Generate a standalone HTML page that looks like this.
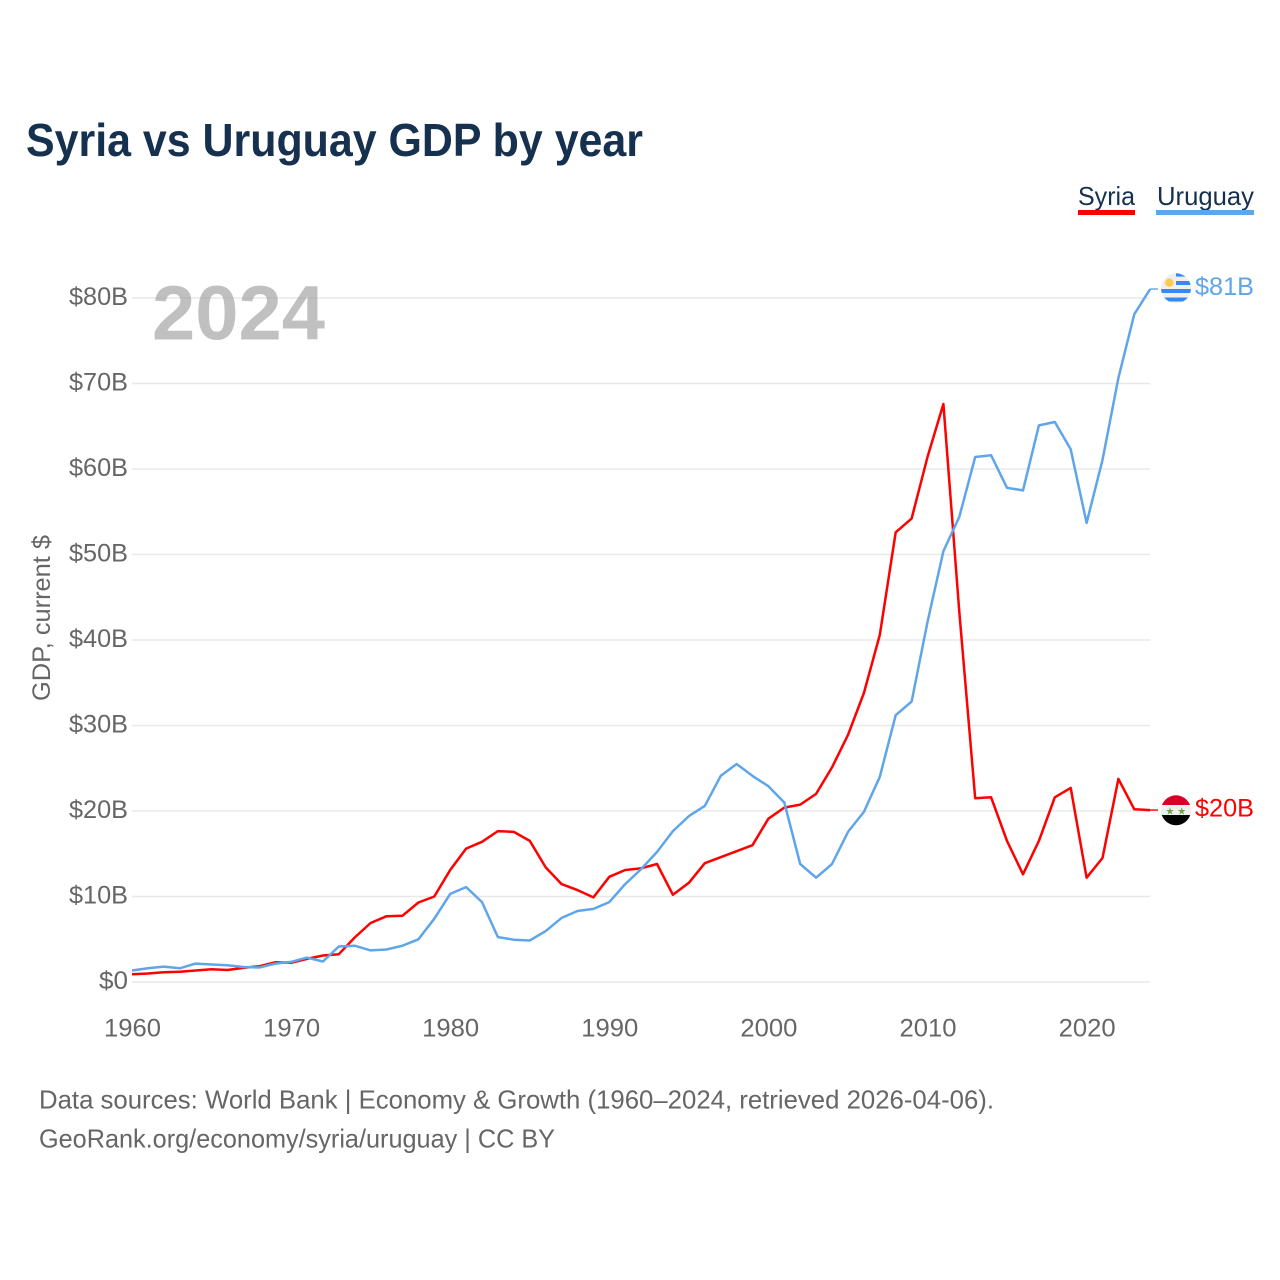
<!DOCTYPE html>
<html lang="en">
<head>
<meta charset="utf-8">
<title>Syria vs Uruguay GDP by year</title>
<style>
html,body{margin:0;padding:0;background:#fff}
svg{display:block;font-family:"Liberation Sans",sans-serif}
</style>
</head>
<body>
<svg id="chart" xmlns="http://www.w3.org/2000/svg" width="1280" height="1280" viewBox="0 0 1280 1280">
  <defs>
    <clipPath id="clip-uy"><circle cx="1176" cy="288.3" r="15"/></clipPath>
    <clipPath id="clip-sy"><circle cx="1176" cy="810.3" r="15"/></clipPath>
  </defs>
  <rect width="1280" height="1280" fill="#fff"/>
  <text x="26" y="156" font-size="46" font-weight="700" fill="#16314f" textLength="617" lengthAdjust="spacingAndGlyphs">Syria vs Uruguay GDP by year</text>

  <g id="grid"></g>
  <g id="yticks"></g>
  <g id="xticks"></g>

  <text x="152" y="339.5" font-size="77" font-weight="700" fill="#999" fill-opacity="0.62" textLength="173" lengthAdjust="spacingAndGlyphs">2024</text>

  <text transform="translate(50,701) rotate(-90)" font-size="25" fill="#666" textLength="166" lengthAdjust="spacingAndGlyphs">GDP, current $</text>

  <g id="series"></g>

  <g>
    <text x="1078" y="205" font-size="26" fill="#16314f" textLength="57" lengthAdjust="spacingAndGlyphs">Syria</text>
    <rect x="1078" y="210" width="57" height="5" fill="#ff0000"/>
  </g>
  <g>
    <text x="1157" y="205" font-size="26" fill="#16314f" textLength="97" lengthAdjust="spacingAndGlyphs">Uruguay</text>
    <rect x="1156" y="210" width="98" height="5" fill="#5fa5ea"/>
  </g>

  <g clip-path="url(#clip-uy)">
    <rect x="1161" y="273" width="30" height="31" fill="#efefef"/>
    <rect x="1176" y="273" width="15" height="3.6" fill="#338af3"/>
    <rect x="1176" y="281" width="15" height="4" fill="#338af3"/>
    <rect x="1161" y="289" width="30" height="4" fill="#338af3"/>
    <rect x="1161" y="297.5" width="30" height="4" fill="#338af3"/>
    <circle cx="1169.3" cy="282.7" r="4.2" fill="#ffc94d"/>
  </g>
  <g clip-path="url(#clip-sy)">
    <rect x="1161" y="795" width="30" height="10" fill="#d80027"/>
    <rect x="1161" y="805" width="30" height="10" fill="#efefef"/>
    <rect x="1161" y="815" width="30" height="11" fill="#000"/>
    <text x="1170" y="814.5" font-size="10" fill="#6da544" text-anchor="middle" font-family="'DejaVu Sans',sans-serif">★</text>
    <text x="1181.7" y="814.5" font-size="10" fill="#6da544" text-anchor="middle" font-family="'DejaVu Sans',sans-serif">★</text>
  </g>

  <text x="1195" y="295" font-size="25" fill="#5fa5ea" textLength="59" lengthAdjust="spacingAndGlyphs">$81B</text>
  <text x="1195" y="816.5" font-size="25" fill="#ff0000" textLength="59" lengthAdjust="spacingAndGlyphs">$20B</text>

  <text x="39" y="1108.5" font-size="26" fill="#666" textLength="955" lengthAdjust="spacingAndGlyphs">Data sources: World Bank | Economy &amp; Growth (1960–2024, retrieved 2026-04-06).</text>
  <text x="39" y="1147.5" font-size="26" fill="#666" textLength="516" lengthAdjust="spacingAndGlyphs">GeoRank.org/economy/syria/uruguay | CC BY</text>
</svg>
<script>
const startYear = 1960;
const syriaValues = [0.9,1.0,1.15,1.2,1.35,1.5,1.4,1.65,1.85,2.3,2.25,2.7,3.1,3.25,5.2,6.9,7.7,7.75,9.3,10,13.1,15.6,16.4,17.65,17.55,16.5,13.4,11.45,10.75,9.9,12.3,13.1,13.3,13.8,10.2,11.6,13.9,14.6,15.3,16,19.1,20.4,20.75,22,25.1,28.9,33.8,40.6,52.6,54.2,61.4,67.6,43.3,21.5,21.6,16.5,12.6,16.5,21.6,22.7,12.2,14.5,23.75,20.2,20.1];
const uruguayValues = [1.35,1.6,1.8,1.6,2.15,2.05,1.95,1.75,1.7,2.15,2.35,2.85,2.4,4.15,4.25,3.7,3.8,4.25,5.0,7.4,10.3,11.1,9.35,5.25,4.95,4.85,5.95,7.5,8.3,8.55,9.35,11.45,13.2,15.2,17.65,19.4,20.6,24.1,25.5,24.1,22.9,21,13.8,12.2,13.8,17.55,19.9,24,31.2,32.8,42.1,50.4,54.4,61.4,61.6,57.8,57.5,65.1,65.5,62.3,53.7,61.05,70.65,78.1,81.05];
const yTickValues = [0,10,20,30,40,50,60,70,80];
const yTickLabels = ['$0','$10B','$20B','$30B','$40B','$50B','$60B','$70B','$80B'];
const xTickValues = [1960,1970,1980,1990,2000,2010,2020];

const xOf = function (year) { return 132 + (year - 1960) * 15.91; };
const yOf = function (v) { return 982 - v * 8.55; };
const NS = 'http://www.w3.org/2000/svg';

function make(tag, attrs, parent, text) {
  const el = document.createElementNS(NS, tag);
  for (const k in attrs) el.setAttribute(k, attrs[k]);
  if (text !== undefined) el.textContent = text;
  parent.appendChild(el);
  return el;
}

const grid = document.getElementById('grid');
const yticks = document.getElementById('yticks');
yTickValues.forEach(function (v, i) {
  const line = make('line', {x1: 132, x2: 1150, y1: yOf(v), y2: yOf(v), stroke: '#e8e8e8', 'stroke-width': 1.4}, grid);
  
  
  const label = make('text', {x: 128, y: yOf(v) + 7, 'font-size': 25, fill: '#666', 'text-anchor': 'end'}, yticks, yTickLabels[i]);
  
  
  label.setAttribute('textLength', i === 0 ? 29 : 59);
  label.setAttribute('lengthAdjust', 'spacingAndGlyphs');
});

const xticks = document.getElementById('xticks');
xTickValues.forEach(function (yr) {
  const label = make('text', {x: xOf(yr) + 0.5, y: 1036.5, 'font-size': 25, fill: '#666', 'text-anchor': 'middle'}, xticks, String(yr));
  
  
  label.setAttribute('textLength', 57);
  label.setAttribute('lengthAdjust', 'spacingAndGlyphs');
});

const seriesGroup = document.getElementById('series');
function drawSeries(values, color, name) {
  const pts = values.map(function (v, i) { return xOf(startYear + i).toFixed(1) + ',' + yOf(v).toFixed(1); });
  const lastY = yOf(values[values.length - 1]).toFixed(1);
  const leader = make('line', {x1: xOf(startYear + values.length - 1), x2: 1158, y1: lastY, y2: lastY, stroke: color, 'stroke-width': 1.4}, seriesGroup);
  
  
  const line = make('polyline', {points: pts.join(' '), fill: 'none', stroke: color, 'stroke-width': 2.5, 'stroke-linejoin': 'round'}, seriesGroup);
  
  
}
drawSeries(syriaValues, '#ff0000', 'syria');
drawSeries(uruguayValues, '#5fa5ea', 'uruguay');
</script>
</body>
</html>
